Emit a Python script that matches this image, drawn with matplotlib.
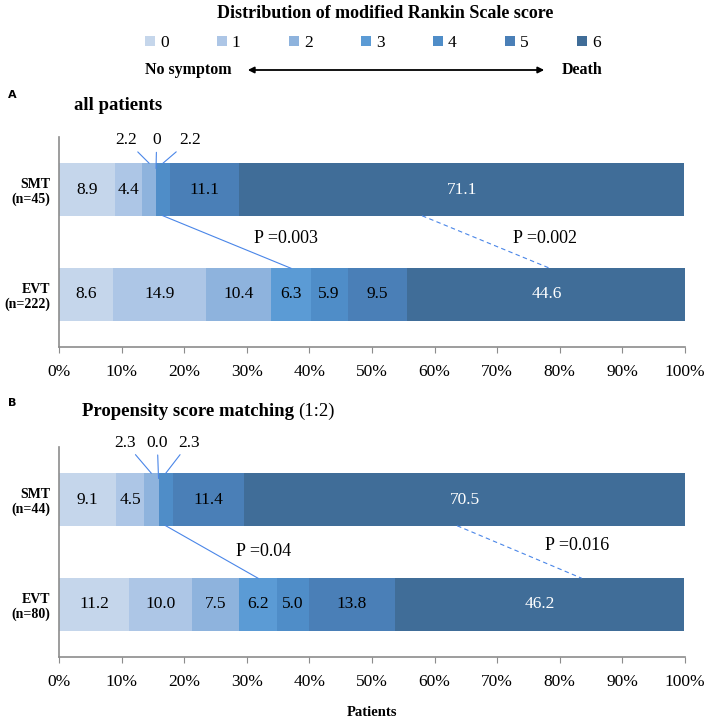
import numpy as np
import matplotlib
matplotlib.use("Agg")
import matplotlib.pyplot as plt
from matplotlib.patches import Patch

# =========================
# DATA
# =========================
MRS_SCORES = ["0", "1", "2", "3", "4", "5", "6"]
GROUPS_A = ["SMT\n(n=45)", "EVT\n(n=222)"]
SMT_A = [8.9, 4.4, 2.2, 0, 2.2, 11.1, 71.1]
EVT_A = [8.6, 14.9, 10.4, 6.3, 5.9, 9.5, 44.6]
P_A = ["P =0.003", "P =0.002"]

GROUPS_B = ["SMT\n(n=44)", "EVT\n(n=80)"]
SMT_B = [9.1, 4.5, 2.3, 0.0, 2.3, 11.4, 70.5]
EVT_B = [11.2, 10.0, 7.5, 6.2, 5.0, 13.8, 46.2]
SMT_B_TXT = ["9.1", "4.5", "2.3", "0.0", "2.3", "11.4", "70.5"]
EVT_B_TXT = ["11.2", "10.0", "7.5", "6.2", "5.0", "13.8", "46.2"]
P_B = ["P =0.04", "P =0.016"]

COLORS = ["#c5d6eb", "#adc6e6", "#8eb3dd", "#5b9bd5", "#4f8dc8", "#4a7fb7", "#406d98"]
LINE_C = "#4a86e8"
SERIF = "Liberation Serif"

# =========================
# HELPERS
# =========================
def draw_panel(ax, smt, evt, groups, ptxt, smt_txt=None, evt_txt=None,
               callout_x=(10.7, 15.6, 20.9), callout_y=1.47,
               p_pos=((36.0, 0.5), (77.5, 0.5)), dash=(58.0, 78.4)):
    smt_txt = smt_txt or [f"{v:g}" for v in smt]
    evt_txt = evt_txt or [f"{v:g}" for v in evt]
    smt_left = np.concatenate([[0], np.cumsum(smt)[:-1]])
    evt_left = np.concatenate([[0], np.cumsum(evt)[:-1]])

    for i in range(len(MRS_SCORES)):
        ax.barh([1, 0], [smt[i], evt[i]], left=[smt_left[i], evt_left[i]],
                height=0.5, color=COLORS[i], edgecolor="none")

    # value labels inside bars
    for row, vals, lefts, txts in [(1, smt, smt_left, smt_txt), (0, evt, evt_left, evt_txt)]:
        for i, (v, l, t) in enumerate(zip(vals, lefts, txts)):
            if row == 1 and i in (2, 3, 4):
                continue
            ax.text(l + v / 2, row, t, ha="center", va="center",
                    family=SERIF, fontsize=12.5,
                    color="white" if i == 6 else "black")

    # callouts for small SMT segments (mRS 2-4)
    for k, i in enumerate((2, 3, 4)):
        target = smt_left[i] + smt[i] / 2
        ax.annotate(smt_txt[i], xy=(target, 1.25 if i != 3 else 1.2),
                    xytext=(callout_x[k], callout_y), textcoords="data",
                    ha="center", va="center", family=SERIF, fontsize=12.5,
                    annotation_clip=False,
                    arrowprops=dict(arrowstyle="-", color=LINE_C, lw=0.8,
                                    shrinkA=1, shrinkB=0))

    # comparison connector lines
    x1 = smt_left[4] + smt[4] / 2
    x2 = evt_left[3] + evt[3] / 2
    ax.plot([x1, x2], [0.75, 0.25], color=LINE_C, lw=0.8)
    ax.plot([dash[0], dash[1]], [0.75, 0.25], color=LINE_C, lw=0.8,
            linestyle=(0, (4, 3)))
    for (px, py), t in zip(p_pos, ptxt):
        ax.text(px, py, t, ha="center", va="center", family=SERIF, fontsize=13)

    ax.set_xlim(0, 100)
    ax.set_ylim(-0.5, 1.5)
    ax.set_xticks(np.arange(0, 101, 10))
    ax.set_xticklabels([f"{v}%" for v in range(0, 101, 10)], family=SERIF, fontsize=12.5)
    ax.set_yticks([1, 0])
    ax.set_yticklabels(groups, family=SERIF, fontsize=10, fontweight="bold")
    ax.tick_params(axis="y", length=0, pad=6)
    ax.tick_params(axis="x", direction="out", length=4, color="#8c8c8c", pad=8)
    for s in ("top", "right"):
        ax.spines[s].set_visible(False)
    for s in ("left", "bottom"):
        ax.spines[s].set_color("#8c8c8c")
        ax.spines[s].set_linewidth(1.2)


# =========================
# FIGURE
# =========================
W, H = 708, 720
fig = plt.figure(figsize=(W / 100, H / 100), dpi=100)

axA = fig.add_axes([59 / W, (H - 347) / H, 626 / W, 210 / H])
draw_panel(axA, SMT_A, EVT_A, GROUPS_A, P_A,
           p_pos=((36.3, 0.53), (77.6, 0.53)), dash=(58.0, 78.4))

axB = fig.add_axes([59 / W, (H - 657) / H, 626 / W, 210 / H])
draw_panel(axB, SMT_B, EVT_B, GROUPS_B, P_B, smt_txt=SMT_B_TXT, evt_txt=EVT_B_TXT,
           callout_x=(10.6, 15.7, 20.8), callout_y=1.54,
           p_pos=((32.6, 0.5), (82.8, 0.56)), dash=(63.6, 83.5))
axB.set_xlabel("Patients", family=SERIF, fontsize=10.5, fontweight="bold", labelpad=12)

# header: title, legend, arrow
fig.text(385 / W, 1 - 14 / H, "Distribution of modified Rankin Scale score",
         ha="center", va="center", family=SERIF, fontsize=13, fontweight="bold")

handles = [Patch(facecolor=c, edgecolor="none", label=s) for c, s in zip(COLORS, MRS_SCORES)]
fig.legend(handles=handles, loc="center", bbox_to_anchor=(373 / W, 1 - 43 / H),
           ncol=7, frameon=False, handlelength=0.55, handleheight=0.55,
           handletextpad=0.3, columnspacing=2.8, prop={"family": SERIF, "size": 12.5})

fig.text(232 / W, 1 - 70 / H, "No symptom", ha="right", va="center",
         family=SERIF, fontsize=11.5, fontweight="bold")
fig.text(562 / W, 1 - 70 / H, "Death", ha="left", va="center",
         family=SERIF, fontsize=11.5, fontweight="bold")
fig.add_artist(matplotlib.patches.FancyArrowPatch(
    (245 / W, 1 - 70 / H), (547 / W, 1 - 70 / H), transform=fig.transFigure,
    arrowstyle="<|-|>", mutation_scale=9, color="black", lw=1.3))

# panel letters and subtitles
fig.text(8 / W, 1 - 95 / H, "A", ha="left", va="center", fontsize=8, fontweight="bold")
fig.text(74 / W, 1 - 106 / H, "all patients", ha="left", va="center",
         family=SERIF, fontsize=13.5, fontweight="bold")
fig.text(8 / W, 1 - 403 / H, "B", ha="left", va="center", fontsize=8, fontweight="bold")
t1 = fig.text(82 / W, 1 - 411 / H, "Propensity score matching", ha="left", va="center",
              family=SERIF, fontsize=13.5, fontweight="bold")
fig.canvas.draw()
bb = t1.get_window_extent()
fig.text((bb.x1 + 4) / W, 1 - 411 / H, "(1:2)", ha="left", va="center",
         family=SERIF, fontsize=13.5)

fig.savefig("out.png", dpi=100)
